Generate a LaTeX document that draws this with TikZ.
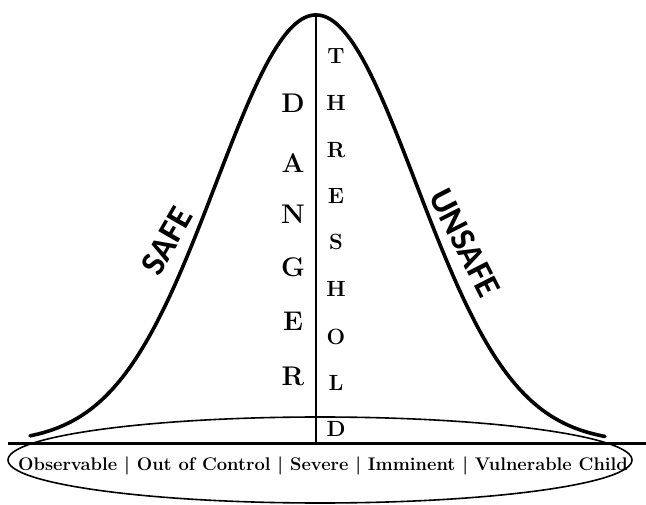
\documentclass[tikz,border=0pt]{standalone}
\usepackage{fontspec}
\usetikzlibrary{shapes.geometric}
\newfontfamily\calib{Carlito}
\begin{document}
\begin{tikzpicture}[x=1pt,y=-1pt,
  bell/.style={line width=3.6pt,line cap=round},
  axis/.style={line width=3pt},
  thresh/.style={line width=2pt},
  lbl/.style={font=\fontsize{27}{27}\selectfont\bfseries,inner sep=0pt},
  tlbl/.style={font=\fontsize{22}{22}\selectfont\bfseries,inner sep=0pt},
  side/.style={font=\calib\fontsize{35}{35}\selectfont\bfseries,inner sep=0pt}]
\useasboundingbox (0,0) rectangle (646,505);
% baseline
\coordinate (bl) at (8,443);
\coordinate (br) at (646,443);
\draw[axis] (bl) -- (br);
% bell curve
\draw[bell] plot[domain=30:605,samples=200,smooth] (\x,{443-428*exp(-0.5*((\x-316)/100)*((\x-316)/100))});
% threshold line
\coordinate (peak) at (316,15);
\coordinate (foot) at (316,443);
\draw[thresh] (peak) -- (foot);
% ellipse
\node[draw,ellipse,line width=1.6pt,minimum width=624pt,minimum height=86pt,inner sep=0pt] (ell) at (320,460) {};
\node[font=\fontsize{18.3}{20}\selectfont\bfseries,inner sep=0pt] (crit) at (323,466)
  {Observable | Out of Control | Severe | Imminent | Vulnerable Child};
% DANGER
\node[lbl] (d1) at (293,103) {D};
\node[lbl] (d2) at (293,163) {A};
\node[lbl] (d3) at (293,214) {N};
\node[lbl] (d4) at (293,267) {G};
\node[lbl] (d5) at (293,321) {E};
\node[lbl] (d6) at (293,376) {R};
% THRESHOLD
\node[tlbl] (t1) at (336,56) {T};
\node[tlbl] (t2) at (336,103) {H};
\node[tlbl] (t3) at (336,150) {R};
\node[tlbl] (t4) at (336,196) {E};
\node[tlbl] (t5) at (336,242) {S};
\node[tlbl] (t6) at (336,289) {H};
\node[tlbl] (t7) at (336,337) {O};
\node[tlbl] (t8) at (336,383) {L};
\node[tlbl] (t9) at (336,429) {D};
% SAFE / UNSAFE
\node[side,rotate=60] (safe) at (167,241) {SAFE};
\node[side,rotate=-63] (unsafe) at (465,243) {UNSAFE};
\end{tikzpicture}
\end{document}
